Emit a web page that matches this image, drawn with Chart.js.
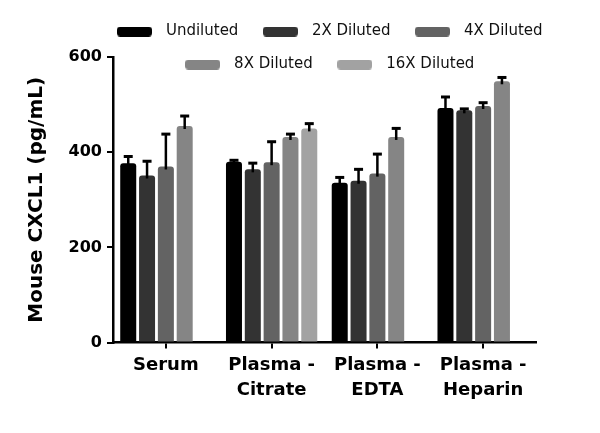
<!DOCTYPE html>
<html><head><meta charset="utf-8">
<script src="https://cdn.jsdelivr.net/npm/chart.js@4"></script>
<style>html,body{margin:0;padding:0;background:#fff}#wrap{width:600px;height:433px;position:relative}</style>
</head><body><div id="wrap"><canvas id="c"></canvas></div>
<script>
const categories = ["Serum", ["Plasma -", "Citrate"], ["Plasma -", "EDTA"], ["Plasma -", "Heparin"]];
const seriesNames = ["Undiluted", "2X Diluted", "4X Diluted", "8X Diluted", "16X Diluted"];
const undiluted = [377, 380, 336, 493];
const undilutedErr = [14, 3, 11, 23];
const diluted2X = [351, 364, 340, 488];
const diluted2XErr = [30, 13, 24, 3];
const diluted4X = [370, 379, 355, 497];
const diluted4XErr = [68, 43, 41, 7];
const diluted8X = [455, 432, 432, 549];
const diluted8XErr = [21, 6, 18, 8];
const diluted16X = [null, 450, null, null];
const diluted16XErr = [null, 10, null, null];
const yTicks = [0, 200, 400, 600];

const colors = ['#000000', '#333333', '#636363', '#858585', '#a2a2a2'];
const values = [undiluted, diluted2X, diluted4X, diluted8X, diluted16X];
const errs = [undilutedErr, diluted2XErr, diluted4XErr, diluted8XErr, diluted16XErr];

function swatch(color) {
  const c = document.createElement('canvas');
  c.width = 35; c.height = 10;
  const x = c.getContext('2d');
  x.fillStyle = color;
  x.beginPath();
  x.roundRect(0, 0, 35, 10, 3.5);
  x.fill();
  return c;
}
const swatches = colors.map(swatch);

const errorBars = {
  id: 'errorBars',
  afterDatasetsDraw(chart) {
    const ctx = chart.ctx;
    const y = chart.scales.y;
    chart.data.datasets.forEach((ds, i) => {
      const meta = chart.getDatasetMeta(i);
      meta.data.forEach((bar, j) => {
        const v = ds.data[j];
        const e = ds.errors[j];
        if (v == null || e == null) return;
        const yTop = y.getPixelForValue(v + e);
        const yBar = y.getPixelForValue(v);
        ctx.save();
        ctx.strokeStyle = '#000';
        ctx.lineWidth = 2.5;
        ctx.beginPath();
        ctx.moveTo(bar.x, yBar + 3);
        ctx.lineTo(bar.x, yTop);
        ctx.stroke();
        ctx.lineWidth = 3;
        ctx.beginPath();
        ctx.moveTo(bar.x - 4.5, yTop);
        ctx.lineTo(bar.x + 4.5, yTop);
        ctx.stroke();
        ctx.restore();
      });
    });
  }
};

// let the second legend row overlap the plot area without being clipped
const legendUnclip = {
  id: 'legendUnclip',
  afterLayout(chart) {
    const l = chart.legend;
    if (l) { l.bottom += 45; l.height += 45; }
  }
};

new Chart(document.getElementById('c'), {
  type: 'bar',
  data: {
    labels: categories,
    datasets: seriesNames.map((name, i) => ({
      label: name,
      data: values[i],
      errors: errs[i],
      backgroundColor: colors[i],
      borderWidth: 0,
      borderRadius: 3,
      barPercentage: 0.85,
      categoryPercentage: 0.89
    }))
  },
  options: {
    responsive: true,
    maintainAspectRatio: false,
    animation: false,
    layout: { padding: { top: 6, left: 25, right: -28, bottom: 26 } },
    plugins: {
      tooltip: { enabled: false },
      legend: {
        position: 'top',
        maxHeight: 51,
        labels: {
          usePointStyle: true,
          pointStyleWidth: 48,
          padding: 18,
          color: '#111',
          font: { family: 'DejaVu Sans', size: 15 },
          generateLabels(chart) {
            const items = Chart.defaults.plugins.legend.labels.generateLabels(chart);
            items.forEach((it) => { it.pointStyle = swatches[it.datasetIndex]; });
            return items;
          }
        }
      }
    },
    scales: {
      x: {
        type: 'category',
        grid: { display: true, drawOnChartArea: false, drawTicks: true, tickLength: 6, offset: false, color: '#000', lineWidth: 2 },
        border: { display: true, color: '#000', width: 2.5 },
        ticks: { color: '#000', padding: 4, maxRotation: 0, autoSkip: false,
          font: { family: 'DejaVu Sans', weight: 'bold', size: 18, lineHeight: 1.4 } }
      },
      y: {
        min: 0, max: 600,
        afterBuildTicks(s) { s.ticks = yTicks.map(v => ({ value: v })); },
        afterFit(s) { s.width = 88; },
        grid: { drawOnChartArea: false, drawTicks: true, tickLength: 6, color: '#000', lineWidth: 2 },
        border: { display: true, color: '#000', width: 2.5 },
        ticks: { color: '#000', padding: 5, font: { family: 'DejaVu Sans', weight: 'bold', size: 16 } },
        title: { display: true, text: 'Mouse CXCL1 (pg/mL)', color: '#000', padding: 0,
          font: { family: 'DejaVu Sans', weight: 'bold', size: 20 } }
      },
      y2: {
        type: 'linear', position: 'right', display: true,
        afterFit(s) { s.width = 92; },
        grid: { display: false, drawTicks: false },
        border: { display: false },
        ticks: { display: false }
      }
    }
  },
  plugins: [errorBars, legendUnclip]
});
</script>
</body></html>
